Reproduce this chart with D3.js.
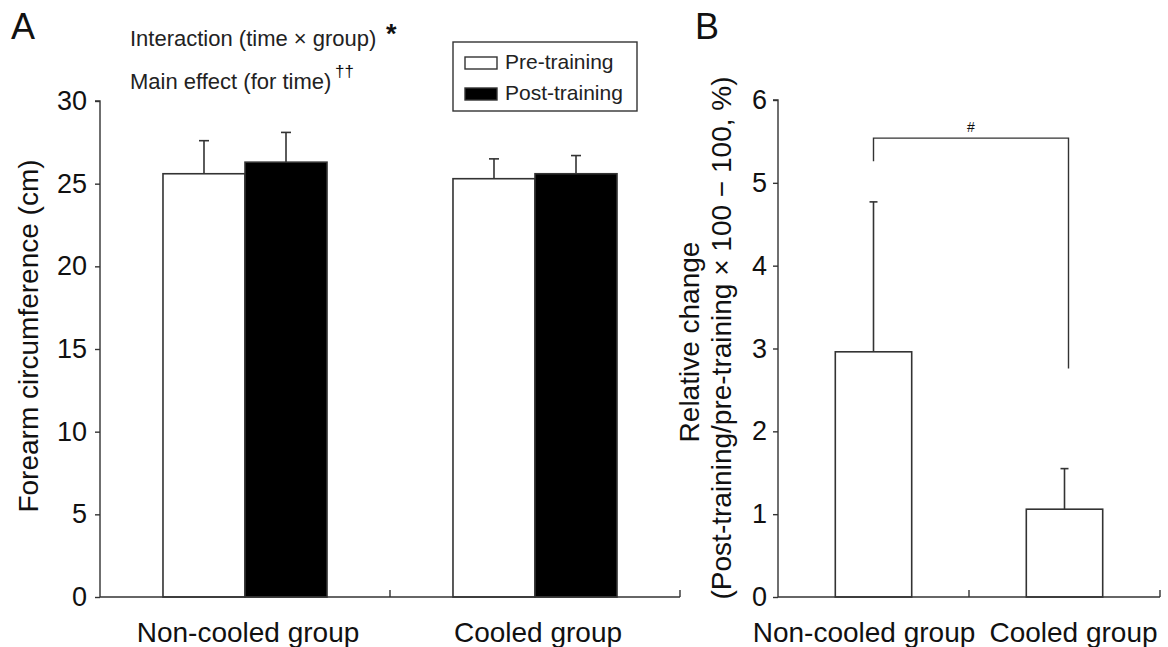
<!DOCTYPE html>
<html>
<head>
<meta charset="utf-8">
<script src="https://cdn.jsdelivr.net/npm/d3@7.9.0/dist/d3.min.js"></script>
<style>
  body { margin: 0; background: #fff; }
  svg { display: block; font-family: "Liberation Sans", Arial, sans-serif; }
</style>
</head>
<body>
<svg id="chart" width="1168" height="647"></svg>
<script>
/* --- Data --- */
const groupsA = ['Non-cooled group', 'Cooled group'];
const seriesA = ['Pre-training', 'Post-training'];
const preMean = [25.6, 25.3];
const preSD = [2.0, 1.2];
const postMean = [26.3, 25.6];
const postSD = [1.8, 1.1];
const ticksA = [0, 5, 10, 15, 20, 25, 30];

const groupsB = ['Non-cooled group', 'Cooled group'];
const changeMean = [2.96, 1.06];
const changeSD = [1.81, 0.49];
const ticksB = [0, 1, 2, 3, 4, 5, 6];
const bracketB = [5.26, 5.54, 2.76];   // left foot, top, right foot

const ink = '#333';
const font = '"Liberation Sans", Arial, sans-serif';
const svg = d3.select('#chart');

/* --- Panel A scales --- */
const xA = d3.scaleBand().domain(groupsA).range([100, 680]).paddingInner(0).paddingOuter(0);
const xAin = d3.scaleBand().domain(seriesA).range([0, xA.bandwidth()]).paddingInner(0).paddingOuter(0.768);
const yA = d3.scaleLinear().domain([0, 30]).range([597, 101]);

const rowsA = [];
groupsA.forEach((g, i) => {
  rowsA.push({ g, s: seriesA[0], m: preMean[i], sd: preSD[i] });
  rowsA.push({ g, s: seriesA[1], m: postMean[i], sd: postSD[i] });
});
const cxA = d => xA(d.g) + xAin(d.s) + xAin.bandwidth() / 2;

const gA = svg.append('g');

// error bars (drawn first, bars cover lower part)
gA.selectAll('line.err').data(rowsA).enter().append('line')
  .attr('x1', cxA).attr('x2', cxA)
  .attr('y1', d => yA(d.m)).attr('y2', d => yA(d.m + d.sd))
  .attr('stroke', ink).attr('stroke-width', 1.6);
gA.selectAll('line.cap').data(rowsA).enter().append('line')
  .attr('x1', d => cxA(d) - 5).attr('x2', d => cxA(d) + 5)
  .attr('y1', d => yA(d.m + d.sd)).attr('y2', d => yA(d.m + d.sd))
  .attr('stroke', ink).attr('stroke-width', 1.6);

gA.selectAll('rect').data(rowsA).enter().append('rect')
  .attr('x', d => xA(d.g) + xAin(d.s))
  .attr('width', xAin.bandwidth())
  .attr('y', d => yA(d.m))
  .attr('height', d => yA(0) - yA(d.m))
  .attr('fill', d => d.s === seriesA[0] ? '#fff' : '#000')
  .attr('stroke', ink).attr('stroke-width', 1.6);

// y axis
const axA = gA.append('g').attr('transform', 'translate(100,0)')
  .call(d3.axisLeft(yA).tickValues(ticksA).tickSize(5).tickPadding(8));
axA.selectAll('path,line').attr('stroke', ink).attr('stroke-width', 1.4);
axA.select('.domain').attr('d', `M-5,${yA(30)}H0V${yA(0)}`);
axA.selectAll('text').attr('font-size', 27).attr('fill', '#111').attr('font-family', font);

// x baseline + group ticks
gA.append('line').attr('x1', 100).attr('x2', 680).attr('y1', yA(0)).attr('y2', yA(0))
  .attr('stroke', ink).attr('stroke-width', 1.4);
gA.selectAll('line.xt').data(groupsA).enter().append('line')
  .attr('x1', d => xA(d) + xA.bandwidth()).attr('x2', d => xA(d) + xA.bandwidth())
  .attr('y1', yA(0)).attr('y2', yA(0) - 7)
  .attr('stroke', ink).attr('stroke-width', 1.4);
gA.selectAll('text.xl').data(groupsA).enter().append('text')
  .attr('x', d => xA(d) + xA.bandwidth() / 2 + 3).attr('y', 642)
  .attr('text-anchor', 'middle').attr('font-size', 28).attr('fill', '#111')
  .text(d => d);

gA.append('text').attr('transform', 'translate(38,336) rotate(-90)')
  .attr('text-anchor', 'middle').attr('font-size', 28).attr('fill', '#111')
  .text('Forearm circumference (cm)');

// annotations
gA.append('text').attr('x', 11).attr('y', 39).attr('font-size', 36).attr('fill', '#111').text('A');
gA.append('text').attr('x', 130).attr('y', 46).attr('font-size', 22).attr('fill', '#222')
  .text('Interaction (time \u00d7 group)');
gA.append('text').attr('x', 386).attr('y', 43).attr('font-size', 27).attr('font-weight', 'bold').attr('fill', '#111').text('*');
gA.append('text').attr('x', 130).attr('y', 89).attr('font-size', 22).attr('fill', '#222')
  .text('Main effect (for time)');
gA.append('text').attr('x', 335).attr('y', 77).attr('font-size', 17).attr('fill', '#111').text('\u2020\u2020');

// legend
const leg = gA.append('g');
leg.append('rect').attr('x', 453).attr('y', 42).attr('width', 184).attr('height', 69)
  .attr('fill', '#fff').attr('stroke', ink).attr('stroke-width', 1.4);
seriesA.forEach((s, i) => {
  leg.append('rect').attr('x', 465).attr('y', 57 + i * 31).attr('width', 32).attr('height', 12)
    .attr('fill', i ? '#000' : '#fff').attr('stroke', ink).attr('stroke-width', 1.4);
  leg.append('text').attr('x', 505).attr('y', 69 + i * 31).attr('font-size', 21).attr('fill', '#222')
    .text(s);
});

/* --- Panel B --- */
const xB = d3.scaleBand().domain(groupsB).range([778, 1160]).paddingInner(0.6).paddingOuter(0.3);
const yB = d3.scaleLinear().domain([0, 6]).range([597, 100]);
const rowsB = groupsB.map((g, i) => ({ g, m: changeMean[i], sd: changeSD[i] }));
const cxB = d => xB(d.g) + xB.bandwidth() / 2;
const gB = svg.append('g');

gB.selectAll('line.err').data(rowsB).enter().append('line')
  .attr('x1', cxB).attr('x2', cxB)
  .attr('y1', d => yB(d.m)).attr('y2', d => yB(d.m + d.sd))
  .attr('stroke', ink).attr('stroke-width', 1.6);
gB.selectAll('line.cap').data(rowsB).enter().append('line')
  .attr('x1', d => cxB(d) - 4).attr('x2', d => cxB(d) + 4)
  .attr('y1', d => yB(d.m + d.sd)).attr('y2', d => yB(d.m + d.sd))
  .attr('stroke', ink).attr('stroke-width', 1.6);
gB.selectAll('rect').data(rowsB).enter().append('rect')
  .attr('x', d => xB(d.g)).attr('width', xB.bandwidth())
  .attr('y', d => yB(d.m)).attr('height', d => yB(0) - yB(d.m))
  .attr('fill', '#fff').attr('stroke', ink).attr('stroke-width', 1.6);

const axB = gB.append('g').attr('transform', 'translate(778,0)')
  .call(d3.axisLeft(yB).tickValues(ticksB).tickFormat(d3.format('d')).tickSize(5).tickPadding(6));
axB.selectAll('path,line').attr('stroke', ink).attr('stroke-width', 1.4);
axB.select('.domain').attr('d', `M-5,${yB(6)}H0V${yB(0)}`);
axB.selectAll('text').attr('font-size', 27).attr('fill', '#111').attr('font-family', font);

gB.append('line').attr('x1', 778).attr('x2', 1160).attr('y1', yB(0)).attr('y2', yB(0))
  .attr('stroke', ink).attr('stroke-width', 1.4);
const stepB = xB.step();
gB.selectAll('line.xt').data(groupsB).enter().append('line')
  .attr('x1', d => xB(d) + xB.bandwidth() / 2 + stepB / 2)
  .attr('x2', d => xB(d) + xB.bandwidth() / 2 + stepB / 2)
  .attr('y1', yB(0)).attr('y2', yB(0) - 7)
  .attr('stroke', ink).attr('stroke-width', 1.4);
const labelShiftB = [-9.5, 9];
gB.selectAll('text.xl').data(groupsB).enter().append('text')
  .attr('x', (d, i) => xB(d) + xB.bandwidth() / 2 + labelShiftB[i]).attr('y', 642)
  .attr('text-anchor', 'middle').attr('font-size', 28).attr('fill', '#111')
  .text(d => d);

// significance bracket
const bx0 = xB(groupsB[0]) + xB.bandwidth() / 2;
const bx1 = xB(groupsB[1]) + xB.bandwidth() / 2 + 4;
gB.append('path')
  .attr('d', `M${bx0},${yB(bracketB[0])}V${yB(bracketB[1])}H${bx1}V${yB(bracketB[2])}`)
  .attr('fill', 'none').attr('stroke', ink).attr('stroke-width', 1.4);
gB.append('text').attr('x', (bx0 + bx1) / 2).attr('y', yB(bracketB[1]) - 6)
  .attr('text-anchor', 'middle').attr('font-size', 14).attr('fill', '#111').text('#');

gB.append('text').attr('x', 695).attr('y', 39).attr('font-size', 36).attr('fill', '#111').text('B');
gB.append('text').attr('transform', 'translate(699,342) rotate(-90)')
  .attr('text-anchor', 'middle').attr('font-size', 28).attr('fill', '#111')
  .text('Relative change');
gB.append('text').attr('transform', 'translate(731,338) rotate(-90)')
  .attr('text-anchor', 'middle').attr('font-size', 28).attr('fill', '#111')
  .text('(Post-training/pre-training \u00d7 100 \u2212 100, %)');
</script>
</body>
</html>
